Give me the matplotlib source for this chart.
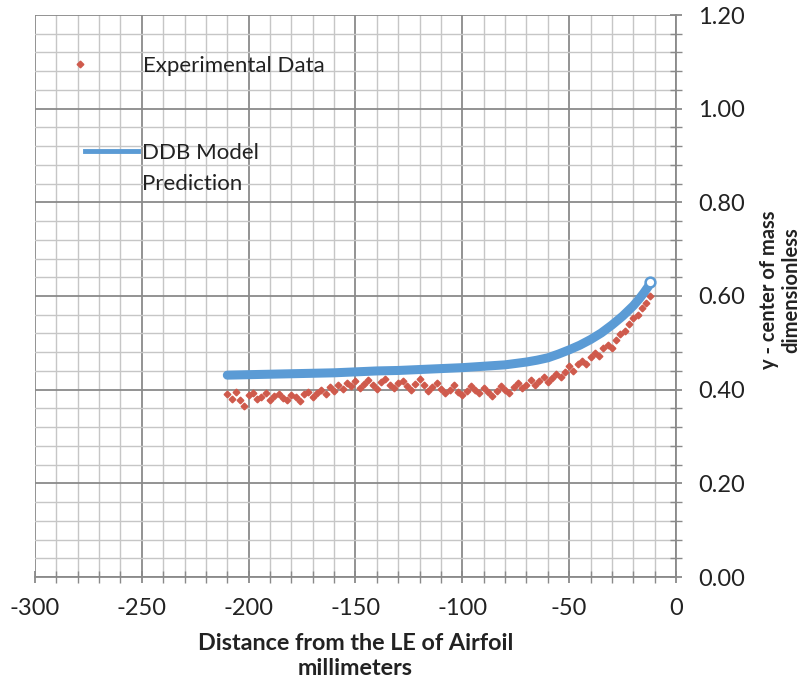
import matplotlib
matplotlib.use("Agg")
import matplotlib.pyplot as plt
from matplotlib.ticker import MultipleLocator, FormatStrFormatter
from matplotlib.lines import Line2D

# ---- data ----
exp_x = list(range(-210, -10, 2))
exp_y = [
    0.390, 0.380, 0.395, 0.378, 0.366, 0.388, 0.392, 0.380, 0.384, 0.392,
    0.378, 0.386, 0.390, 0.382, 0.378, 0.388, 0.384, 0.376, 0.390, 0.394,
    0.384, 0.392, 0.400, 0.390, 0.405, 0.398, 0.410, 0.402, 0.415, 0.408,
    0.418, 0.404, 0.412, 0.420, 0.410, 0.402, 0.416, 0.422, 0.410, 0.404,
    0.415, 0.418, 0.408, 0.400, 0.412, 0.422, 0.410, 0.398, 0.405, 0.415,
    0.402, 0.392, 0.400, 0.410, 0.396, 0.388, 0.398, 0.408, 0.400, 0.392,
    0.404, 0.395, 0.386, 0.398, 0.408, 0.400, 0.392, 0.405, 0.415, 0.404,
    0.410, 0.420, 0.410, 0.418, 0.428, 0.416, 0.424, 0.434, 0.426, 0.438,
    0.450, 0.440, 0.455, 0.462, 0.455, 0.470, 0.478, 0.472, 0.488, 0.495,
    0.490, 0.505, 0.518, 0.525, 0.540, 0.552, 0.560, 0.575, 0.585, 0.600,
]

model_x = [-210, -200, -190, -180, -170, -160, -150, -140, -130, -120, -110,
           -100, -90, -80, -75, -70, -65, -60, -55, -50, -45, -40, -35, -30,
           -25, -20, -17, -15, -13, -12]
model_y = [0.431, 0.432, 0.433, 0.434, 0.435, 0.436, 0.438, 0.440, 0.441,
           0.443, 0.445, 0.447, 0.450, 0.453, 0.456, 0.459, 0.463, 0.468,
           0.476, 0.485, 0.495, 0.507, 0.521, 0.538, 0.557, 0.579, 0.595,
           0.607, 0.620, 0.630]

x_ticks = [-300, -250, -200, -150, -100, -50, 0]
y_ticks = [0.0, 0.2, 0.4, 0.6, 0.8, 1.0, 1.2]

RED = "#cf5a4c"
BLUE = "#5b9bd5"
TXT = "#222222"
FONT = ["Lato", "DejaVu Sans"]
plt.rcParams["font.family"] = FONT

fig = plt.figure(figsize=(8.04, 6.82), dpi=100)
ax = fig.add_axes([35 / 804, 105 / 682, 641 / 804, 562 / 682])

ax.set_xlim(-300, 0)
ax.set_ylim(0, 1.2)
ax.xaxis.set_minor_locator(MultipleLocator(10))
ax.yaxis.set_minor_locator(MultipleLocator(0.04))
ax.set_xticks(x_ticks)
ax.set_xticklabels([f"{t:d}" for t in x_ticks])
ax.set_yticks(y_ticks)
ax.yaxis.set_major_formatter(FormatStrFormatter("%.2f"))

ax.grid(which="major", color="#8a8a8a", linewidth=1.3)
ax.grid(which="minor", color="#c6c6c6", linewidth=1.0)
ax.set_axisbelow(True)

for s in ["left", "top"]:
    ax.spines[s].set_visible(False)
for s in ["bottom", "right"]:
    ax.spines[s].set_color("#8a8a8a")
    ax.spines[s].set_linewidth(1.3)

ax.yaxis.tick_right()
ax.tick_params(axis="both", which="both", direction="inout", color="#8a8a8a",
               labelsize=17, labelcolor=TXT)
ax.tick_params(axis="x", which="major", length=8, width=1.3, pad=11)
ax.tick_params(axis="x", which="minor", length=8, width=1.0)
ax.tick_params(axis="y", which="major", length=8, width=1.3, pad=12)
ax.tick_params(axis="y", which="minor", length=8, width=1.0)

ax.plot(exp_x, exp_y, linestyle="none", marker="D", markersize=3.4,
        color=RED, zorder=3)
ax.plot(model_x, model_y, color=BLUE, linewidth=6.5, solid_capstyle="round",
        zorder=4)
ax.plot(model_x[-1:], model_y[-1:], linestyle="none", marker="o",
        markersize=7, markerfacecolor="white", markeredgecolor=BLUE,
        markeredgewidth=1.8, zorder=5)

ax.set_xlabel("Distance from the LE of Airfoil\nmillimeters", fontsize=16.8,
              fontweight="bold", labelpad=10, color=TXT, linespacing=1.25)
fig.text(780 / 804, 1 - 290 / 682, "y - center of mass\ndimensionless",
         rotation=90, fontsize=14.5, fontweight="bold", color=TXT,
         ha="center", va="center", multialignment="center", linespacing=1.1)

h1 = Line2D([], [], linestyle="none", marker="D", markersize=3.4, color=RED)
leg1 = ax.legend([h1], ["Experimental Data"], loc="center left",
                 bbox_to_anchor=(0.036, 0.909), frameon=False, fontsize=16,
                 handlelength=2.0, handletextpad=1.8, borderpad=0,
                 borderaxespad=0, labelcolor=TXT)
ax.add_artist(leg1)
h2 = Line2D([], [], color=BLUE, linewidth=3.5)
ax.legend([h2], ["DDB Model"], loc="center left",
          bbox_to_anchor=(0.078, 0.7544), frameon=False, fontsize=16,
          handlelength=2.4, handletextpad=0.18, borderpad=0,
          borderaxespad=0, labelcolor=TXT)
fig.text(142 / 804, 1 - 184 / 682, "Prediction", fontsize=16, color=TXT,
         va="center", ha="left")

fig.savefig("out.png", dpi=100)
